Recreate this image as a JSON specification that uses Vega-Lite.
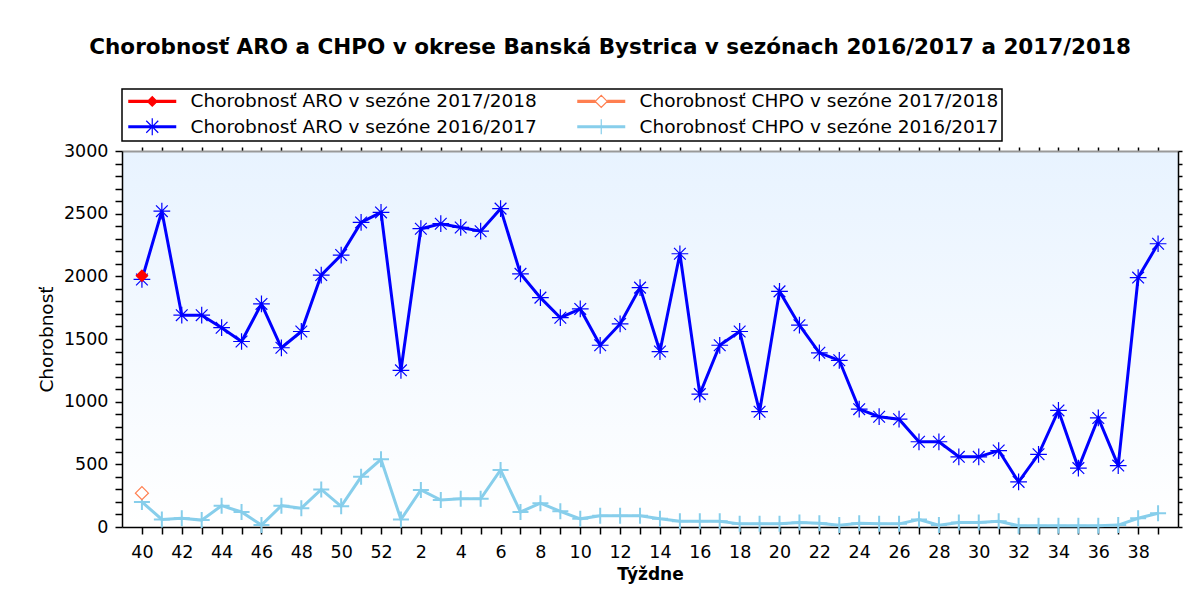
{
  "$schema": "https://vega.github.io/schema/vega-lite/v6.json",
  "width": 1056,
  "height": 376,
  "autosize": {"type": "none"},
  "padding": {"left": 122, "top": 151, "right": 16, "bottom": 77},
  "background": "white",
  "title": {
    "text": "Chorobnosť ARO a CHPO v okrese Banská Bystrica v sezónach 2016/2017 a 2017/2018",
    "font": "DejaVu Sans", "fontSize": 21.5, "fontWeight": "bold", "color": "#000",
    "anchor": "middle", "frame": "bounds", "offset": 30
  },
  "data": {"values": [
    {"s": "Chorobnosť ARO v sezóne 2016/2017", "week": 40, "idx": 0, "value": 1975},
    {"s": "Chorobnosť ARO v sezóne 2016/2017", "week": 41, "idx": 1, "value": 2520},
    {"s": "Chorobnosť ARO v sezóne 2016/2017", "week": 42, "idx": 2, "value": 1690},
    {"s": "Chorobnosť ARO v sezóne 2016/2017", "week": 43, "idx": 3, "value": 1690},
    {"s": "Chorobnosť ARO v sezóne 2016/2017", "week": 44, "idx": 4, "value": 1590},
    {"s": "Chorobnosť ARO v sezóne 2016/2017", "week": 45, "idx": 5, "value": 1480},
    {"s": "Chorobnosť ARO v sezóne 2016/2017", "week": 46, "idx": 6, "value": 1780},
    {"s": "Chorobnosť ARO v sezóne 2016/2017", "week": 47, "idx": 7, "value": 1430},
    {"s": "Chorobnosť ARO v sezóne 2016/2017", "week": 48, "idx": 8, "value": 1560},
    {"s": "Chorobnosť ARO v sezóne 2016/2017", "week": 49, "idx": 9, "value": 2010},
    {"s": "Chorobnosť ARO v sezóne 2016/2017", "week": 50, "idx": 10, "value": 2170},
    {"s": "Chorobnosť ARO v sezóne 2016/2017", "week": 51, "idx": 11, "value": 2430},
    {"s": "Chorobnosť ARO v sezóne 2016/2017", "week": 52, "idx": 12, "value": 2510},
    {"s": "Chorobnosť ARO v sezóne 2016/2017", "week": 1, "idx": 13, "value": 1250},
    {"s": "Chorobnosť ARO v sezóne 2016/2017", "week": 2, "idx": 14, "value": 2380},
    {"s": "Chorobnosť ARO v sezóne 2016/2017", "week": 3, "idx": 15, "value": 2420},
    {"s": "Chorobnosť ARO v sezóne 2016/2017", "week": 4, "idx": 16, "value": 2390},
    {"s": "Chorobnosť ARO v sezóne 2016/2017", "week": 5, "idx": 17, "value": 2360},
    {"s": "Chorobnosť ARO v sezóne 2016/2017", "week": 6, "idx": 18, "value": 2540},
    {"s": "Chorobnosť ARO v sezóne 2016/2017", "week": 7, "idx": 19, "value": 2020},
    {"s": "Chorobnosť ARO v sezóne 2016/2017", "week": 8, "idx": 20, "value": 1830},
    {"s": "Chorobnosť ARO v sezóne 2016/2017", "week": 9, "idx": 21, "value": 1670},
    {"s": "Chorobnosť ARO v sezóne 2016/2017", "week": 10, "idx": 22, "value": 1740},
    {"s": "Chorobnosť ARO v sezóne 2016/2017", "week": 11, "idx": 23, "value": 1450},
    {"s": "Chorobnosť ARO v sezóne 2016/2017", "week": 12, "idx": 24, "value": 1620},
    {"s": "Chorobnosť ARO v sezóne 2016/2017", "week": 13, "idx": 25, "value": 1910},
    {"s": "Chorobnosť ARO v sezóne 2016/2017", "week": 14, "idx": 26, "value": 1400},
    {"s": "Chorobnosť ARO v sezóne 2016/2017", "week": 15, "idx": 27, "value": 2180},
    {"s": "Chorobnosť ARO v sezóne 2016/2017", "week": 16, "idx": 28, "value": 1060},
    {"s": "Chorobnosť ARO v sezóne 2016/2017", "week": 17, "idx": 29, "value": 1450},
    {"s": "Chorobnosť ARO v sezóne 2016/2017", "week": 18, "idx": 30, "value": 1560},
    {"s": "Chorobnosť ARO v sezóne 2016/2017", "week": 19, "idx": 31, "value": 920},
    {"s": "Chorobnosť ARO v sezóne 2016/2017", "week": 20, "idx": 32, "value": 1880},
    {"s": "Chorobnosť ARO v sezóne 2016/2017", "week": 21, "idx": 33, "value": 1610},
    {"s": "Chorobnosť ARO v sezóne 2016/2017", "week": 22, "idx": 34, "value": 1390},
    {"s": "Chorobnosť ARO v sezóne 2016/2017", "week": 23, "idx": 35, "value": 1330},
    {"s": "Chorobnosť ARO v sezóne 2016/2017", "week": 24, "idx": 36, "value": 940},
    {"s": "Chorobnosť ARO v sezóne 2016/2017", "week": 25, "idx": 37, "value": 880},
    {"s": "Chorobnosť ARO v sezóne 2016/2017", "week": 26, "idx": 38, "value": 860},
    {"s": "Chorobnosť ARO v sezóne 2016/2017", "week": 27, "idx": 39, "value": 680},
    {"s": "Chorobnosť ARO v sezóne 2016/2017", "week": 28, "idx": 40, "value": 680},
    {"s": "Chorobnosť ARO v sezóne 2016/2017", "week": 29, "idx": 41, "value": 560},
    {"s": "Chorobnosť ARO v sezóne 2016/2017", "week": 30, "idx": 42, "value": 560},
    {"s": "Chorobnosť ARO v sezóne 2016/2017", "week": 31, "idx": 43, "value": 610},
    {"s": "Chorobnosť ARO v sezóne 2016/2017", "week": 32, "idx": 44, "value": 360},
    {"s": "Chorobnosť ARO v sezóne 2016/2017", "week": 33, "idx": 45, "value": 580},
    {"s": "Chorobnosť ARO v sezóne 2016/2017", "week": 34, "idx": 46, "value": 930},
    {"s": "Chorobnosť ARO v sezóne 2016/2017", "week": 35, "idx": 47, "value": 470},
    {"s": "Chorobnosť ARO v sezóne 2016/2017", "week": 36, "idx": 48, "value": 870},
    {"s": "Chorobnosť ARO v sezóne 2016/2017", "week": 37, "idx": 49, "value": 490},
    {"s": "Chorobnosť ARO v sezóne 2016/2017", "week": 38, "idx": 50, "value": 1990},
    {"s": "Chorobnosť ARO v sezóne 2016/2017", "week": 39, "idx": 51, "value": 2260},
    {"s": "Chorobnosť CHPO v sezóne 2016/2017", "week": 40, "idx": 0, "value": 200},
    {"s": "Chorobnosť CHPO v sezóne 2016/2017", "week": 41, "idx": 1, "value": 60},
    {"s": "Chorobnosť CHPO v sezóne 2016/2017", "week": 42, "idx": 2, "value": 70},
    {"s": "Chorobnosť CHPO v sezóne 2016/2017", "week": 43, "idx": 3, "value": 55},
    {"s": "Chorobnosť CHPO v sezóne 2016/2017", "week": 44, "idx": 4, "value": 170},
    {"s": "Chorobnosť CHPO v sezóne 2016/2017", "week": 45, "idx": 5, "value": 120},
    {"s": "Chorobnosť CHPO v sezóne 2016/2017", "week": 46, "idx": 6, "value": 15},
    {"s": "Chorobnosť CHPO v sezóne 2016/2017", "week": 47, "idx": 7, "value": 170},
    {"s": "Chorobnosť CHPO v sezóne 2016/2017", "week": 48, "idx": 8, "value": 150},
    {"s": "Chorobnosť CHPO v sezóne 2016/2017", "week": 49, "idx": 9, "value": 300},
    {"s": "Chorobnosť CHPO v sezóne 2016/2017", "week": 50, "idx": 10, "value": 165},
    {"s": "Chorobnosť CHPO v sezóne 2016/2017", "week": 51, "idx": 11, "value": 400},
    {"s": "Chorobnosť CHPO v sezóne 2016/2017", "week": 52, "idx": 12, "value": 540},
    {"s": "Chorobnosť CHPO v sezóne 2016/2017", "week": 1, "idx": 13, "value": 60},
    {"s": "Chorobnosť CHPO v sezóne 2016/2017", "week": 2, "idx": 14, "value": 295},
    {"s": "Chorobnosť CHPO v sezóne 2016/2017", "week": 3, "idx": 15, "value": 215},
    {"s": "Chorobnosť CHPO v sezóne 2016/2017", "week": 4, "idx": 16, "value": 225},
    {"s": "Chorobnosť CHPO v sezóne 2016/2017", "week": 5, "idx": 17, "value": 225},
    {"s": "Chorobnosť CHPO v sezóne 2016/2017", "week": 6, "idx": 18, "value": 455},
    {"s": "Chorobnosť CHPO v sezóne 2016/2017", "week": 7, "idx": 19, "value": 120},
    {"s": "Chorobnosť CHPO v sezóne 2016/2017", "week": 8, "idx": 20, "value": 190},
    {"s": "Chorobnosť CHPO v sezóne 2016/2017", "week": 9, "idx": 21, "value": 125},
    {"s": "Chorobnosť CHPO v sezóne 2016/2017", "week": 10, "idx": 22, "value": 65},
    {"s": "Chorobnosť CHPO v sezóne 2016/2017", "week": 11, "idx": 23, "value": 90},
    {"s": "Chorobnosť CHPO v sezóne 2016/2017", "week": 12, "idx": 24, "value": 90},
    {"s": "Chorobnosť CHPO v sezóne 2016/2017", "week": 13, "idx": 25, "value": 90},
    {"s": "Chorobnosť CHPO v sezóne 2016/2017", "week": 14, "idx": 26, "value": 65},
    {"s": "Chorobnosť CHPO v sezóne 2016/2017", "week": 15, "idx": 27, "value": 45},
    {"s": "Chorobnosť CHPO v sezóne 2016/2017", "week": 16, "idx": 28, "value": 45},
    {"s": "Chorobnosť CHPO v sezóne 2016/2017", "week": 17, "idx": 29, "value": 45},
    {"s": "Chorobnosť CHPO v sezóne 2016/2017", "week": 18, "idx": 30, "value": 25},
    {"s": "Chorobnosť CHPO v sezóne 2016/2017", "week": 19, "idx": 31, "value": 25},
    {"s": "Chorobnosť CHPO v sezóne 2016/2017", "week": 20, "idx": 32, "value": 25},
    {"s": "Chorobnosť CHPO v sezóne 2016/2017", "week": 21, "idx": 33, "value": 35},
    {"s": "Chorobnosť CHPO v sezóne 2016/2017", "week": 22, "idx": 34, "value": 30},
    {"s": "Chorobnosť CHPO v sezóne 2016/2017", "week": 23, "idx": 35, "value": 15},
    {"s": "Chorobnosť CHPO v sezóne 2016/2017", "week": 24, "idx": 36, "value": 30},
    {"s": "Chorobnosť CHPO v sezóne 2016/2017", "week": 25, "idx": 37, "value": 25},
    {"s": "Chorobnosť CHPO v sezóne 2016/2017", "week": 26, "idx": 38, "value": 25},
    {"s": "Chorobnosť CHPO v sezóne 2016/2017", "week": 27, "idx": 39, "value": 60},
    {"s": "Chorobnosť CHPO v sezóne 2016/2017", "week": 28, "idx": 40, "value": 15},
    {"s": "Chorobnosť CHPO v sezóne 2016/2017", "week": 29, "idx": 41, "value": 35},
    {"s": "Chorobnosť CHPO v sezóne 2016/2017", "week": 30, "idx": 42, "value": 35},
    {"s": "Chorobnosť CHPO v sezóne 2016/2017", "week": 31, "idx": 43, "value": 45},
    {"s": "Chorobnosť CHPO v sezóne 2016/2017", "week": 32, "idx": 44, "value": 10},
    {"s": "Chorobnosť CHPO v sezóne 2016/2017", "week": 33, "idx": 45, "value": 10},
    {"s": "Chorobnosť CHPO v sezóne 2016/2017", "week": 34, "idx": 46, "value": 10},
    {"s": "Chorobnosť CHPO v sezóne 2016/2017", "week": 35, "idx": 47, "value": 10},
    {"s": "Chorobnosť CHPO v sezóne 2016/2017", "week": 36, "idx": 48, "value": 10},
    {"s": "Chorobnosť CHPO v sezóne 2016/2017", "week": 37, "idx": 49, "value": 15},
    {"s": "Chorobnosť CHPO v sezóne 2016/2017", "week": 38, "idx": 50, "value": 70},
    {"s": "Chorobnosť CHPO v sezóne 2016/2017", "week": 39, "idx": 51, "value": 110},
    {"s": "Chorobnosť ARO v sezóne 2017/2018", "week": 40, "idx": 0, "value": 2005},
    {"s": "Chorobnosť CHPO v sezóne 2017/2018", "week": 40, "idx": 0, "value": 270}
  ]},
  "layer": [
    {
      "mark": {"type": "line", "strokeWidth": 3},
      "encoding": {
        "x": {"field": "week", "type": "ordinal",
          "scale": {"type": "point", "padding": 1, "domain": [40,41,42,43,44,45,46,47,48,49,50,51,52,1,2,3,4,5,6,7,8,9,10,11,12,13,14,15,16,17,18,19,20,21,22,23,24,25,26,27,28,29,30,31,32,33,34,35,36,37,38,39]},
          "axis": {"orient": "bottom", "title": "Týždne", "titleFont": "DejaVu Sans", "titleFontSize": 17, "titleFontWeight": "bold", "titleColor": "#000", "titlePadding": 6,
            "labelFont": "DejaVu Sans", "labelFontSize": 17.5, "labelColor": "#000", "labelAngle": 0, "labelOverlap": false,
            "labelExpr": "datum.value % 2 === 0 ? datum.label : ''", "labelPadding": 9, "tickSize": 7, "tickColor": "#000", "tickWidth": 1.5,
            "domainColor": "#000", "domainWidth": 1.5, "grid": false,
            "encode": {"ticks": {"update": {"y": {"signal": "datum.value % 2 === 0 ? -7 : -4"}, "y2": {"signal": "datum.value % 2 === 0 ? 7 : 3"}}}}}},
        "y": {"field": "value", "type": "quantitative", "scale": {"domain": [0, 3000], "nice": false},
          "axis": {"orient": "left", "title": "Chorobnosť", "titleFont": "DejaVu Sans", "titleFontSize": 18.5, "titleFontWeight": "normal", "titleColor": "#000", "titlePadding": 7,
            "values": [0,100,200,300,400,500,600,700,800,900,1000,1100,1200,1300,1400,1500,1600,1700,1800,1900,2000,2100,2200,2300,2400,2500,2600,2700,2800,2900,3000],
            "format": "d", "labelExpr": "datum.value % 500 === 0 ? datum.label : ''", "labelOverlap": false,
            "labelFont": "DejaVu Sans", "labelFontSize": 17.5, "labelColor": "#000", "labelPadding": 7, "tickSize": 7, "tickColor": "#000", "tickWidth": 1.5,
            "domainColor": "#000", "domainWidth": 1.5, "grid": false,
            "encode": {"ticks": {"update": {"x": {"signal": "datum.value % 500 === 0 ? 6 : 4"}, "x2": {"signal": "datum.value % 500 === 0 ? -7 : -4"}}}}}},
        "order": {"field": "idx"},
        "color": {"field": "s", "type": "nominal",
          "scale": {"domain": ["Chorobnosť ARO v sezóne 2017/2018", "Chorobnosť CHPO v sezóne 2017/2018", "Chorobnosť ARO v sezóne 2016/2017", "Chorobnosť CHPO v sezóne 2016/2017"],
                    "range": ["#FF0000", "#FF7F50", "#0000FF", "#87CEEB"]},
          "legend": {"title": null, "orient": "top", "columns": 2, "direction": "horizontal", "offset": 5, "padding": 3,
            "strokeColor": "#000", "fillColor": "#FFFFFF",
            "labelFont": "DejaVu Sans", "labelFontSize": 18.5, "labelColor": "#000", "labelLimit": 0,
            "symbolSize": 144, "symbolOffset": 18, "labelOffset": 29, "rowPadding": 4.5, "columnPadding": 37, "symbolStrokeWidth": 1.2,
            "encode": {"symbols": {"update": {
              "shape": {"signal": "indexof(datum.value,'ARO')>=0 ? (indexof(datum.value,'2017/2018')>=0 ? 'M-4,-0.17H4M-4,0H4M-4,0.17H4M-0.8,0L0,-0.8L0.8,0L0,0.8Z' : 'M-4,-0.17H4M-4,0H4M-4,0.17H4M0,-1.4V1.4M-1,-1L1,1M-1,1L1,-1') : (indexof(datum.value,'2017/2018')>=0 ? 'M-4,-0.17H-1M-4,0H-1M-4,0.17H-1M1,-0.17H4M1,0H4M1,0.17H4M-1,0L0,-1L1,0L0,1Z' : 'M-4,-0.17H4M-4,0H4M-4,0.17H4M0,-1.25V1.25')"},
              "fill": {"signal": "indexof(datum.value,'2017/2018')>=0 ? (indexof(datum.value,'ARO')>=0 ? '#FF0000' : '#FFFFFF') : 'transparent'"},
              "stroke": {"signal": "scale('color', datum.value)"},
              "strokeWidth": {"value": 1.2},
              "opacity": {"value": 1}
            }}}}
        }
      }
    },
    {
      "transform": [{"filter": "datum.s === 'Chorobnosť ARO v sezóne 2016/2017'"}],
      "mark": {"type": "point", "shape": "M0,-1V1M-1,0H1M-0.7,-0.7L0.7,0.7M-0.7,0.7L0.7,-0.7", "filled": false, "stroke": "#0000FF", "strokeWidth": 1.2, "size": 280, "opacity": 1},
      "encoding": {
        "x": {"field": "week", "type": "ordinal",
          "axis": {"orient": "top", "title": null, "labels": false, "domainColor": "#999999", "domainWidth": 2, "tickColor": "#000", "tickWidth": 1.5, "tickSize": 4, "grid": false,
            "encode": {"ticks": {"update": {"y": {"value": 0}, "y2": {"signal": "datum.value % 2 === 0 ? 7 : 4"}}}}}},
        "y": {"field": "value", "type": "quantitative",
          "axis": {"orient": "right", "title": null, "labels": false, "domainColor": "#000", "domainWidth": 1.5, "tickColor": "#000", "tickWidth": 1.5, "tickSize": 4, "grid": false,
            "values": [0,100,200,300,400,500,600,700,800,900,1000,1100,1200,1300,1400,1500,1600,1700,1800,1900,2000,2100,2200,2300,2400,2500,2600,2700,2800,2900,3000],
            "encode": {"ticks": {"update": {"x": {"value": 0}, "x2": {"signal": "datum.value % 500 === 0 ? -7 : -4"}}}}}}
      }
    },
    {
      "transform": [{"filter": "datum.s === 'Chorobnosť CHPO v sezóne 2016/2017'"}],
      "mark": {"type": "point", "shape": "M0,-1V1M-1,0H1", "filled": false, "stroke": "#87CEEB", "strokeWidth": 2, "size": 256, "opacity": 1},
      "encoding": {
        "x": {"field": "week", "type": "ordinal", "axis": null},
        "y": {"field": "value", "type": "quantitative", "axis": null}
      }
    },
    {
      "transform": [{"filter": "datum.s === 'Chorobnosť ARO v sezóne 2017/2018'"}],
      "mark": {"type": "point", "shape": "diamond", "filled": true, "color": "#FF0000", "size": 169, "opacity": 1},
      "encoding": {
        "x": {"field": "week", "type": "ordinal", "axis": null},
        "y": {"field": "value", "type": "quantitative", "axis": null}
      }
    },
    {
      "transform": [{"filter": "datum.s === 'Chorobnosť CHPO v sezóne 2017/2018'"}],
      "mark": {"type": "point", "shape": "diamond", "filled": true, "fill": "#FFFFFF", "stroke": "#FF7F50", "strokeWidth": 1.2, "size": 169, "opacity": 1},
      "encoding": {
        "x": {"field": "week", "type": "ordinal", "axis": null},
        "y": {"field": "value", "type": "quantitative", "axis": null}
      }
    }
  ],
  "resolve": {"axis": {"x": "independent", "y": "independent"}},
  "config": {
    "view": {"stroke": null, "fill": {"gradient": "linear", "x1": 0, "y1": 0, "x2": 0, "y2": 1, "stops": [{"offset": 0, "color": "#E8F3FF"}, {"offset": 1, "color": "#FFFFFF"}]}},
    "legend": {"strokeWidth": 1.5},
    "font": "DejaVu Sans"
  }
}
